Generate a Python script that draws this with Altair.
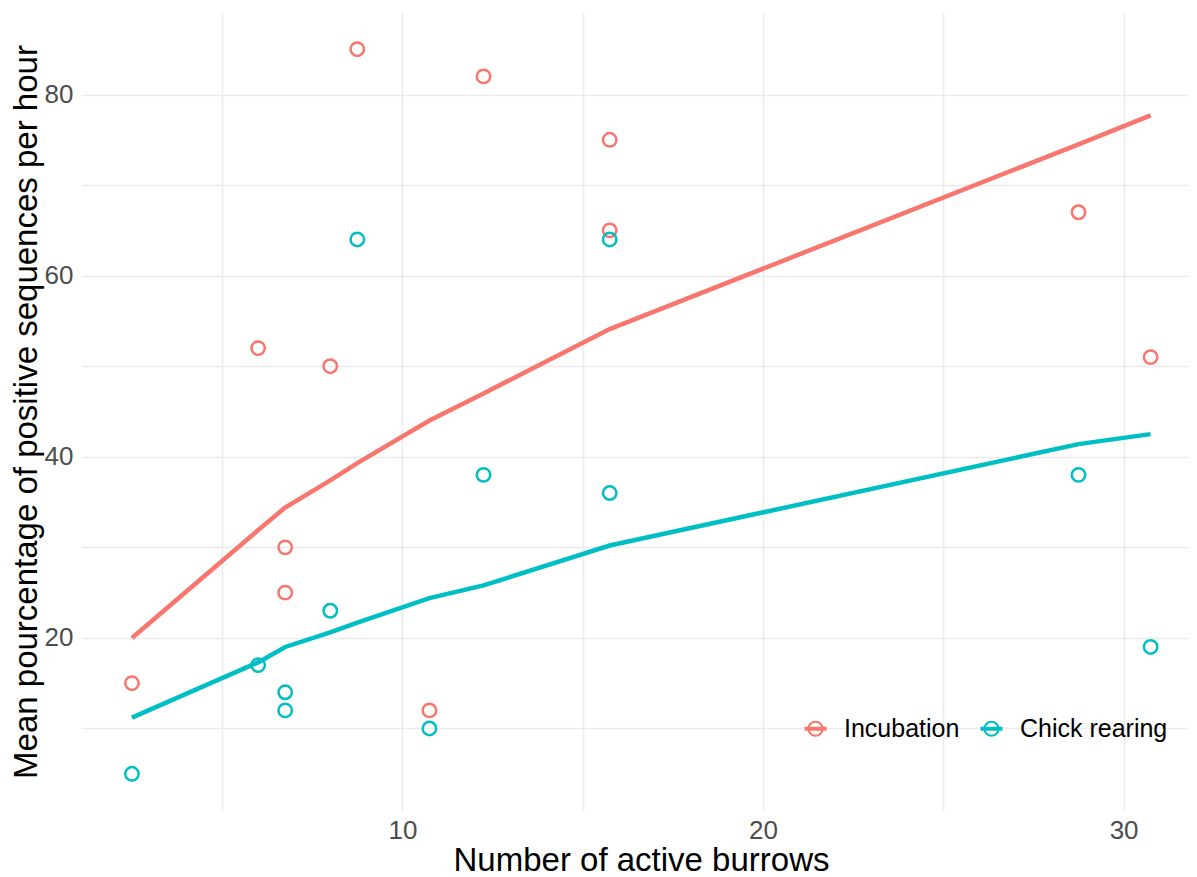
import altair as alt
import pandas as pd

# ---- data ----
burrows = [2.5, 6, 6.75, 6.75, 8, 8.75, 10.75, 12.25, 15.75, 15.75, 28.75, 30.75]
incubation = [15, 52, 30, 25, 50, 85, 12, 82, 75, 65, 67, 51]
chick_rearing = [5, 17, 14, 12, 23, 64, 10, 38, 36, 64, 38, 19]

fit_x = [2.5, 6, 6.75, 8, 8.75, 10.75, 12.25, 15.75, 28.75, 30.75]
fit_incubation = [20.0, 31.9, 34.4, 37.4, 39.3, 44.0, 47.0, 54.1, 74.5, 77.7]
fit_chick_rearing = [11.2, 17.3, 19.0, 20.6, 21.7, 24.4, 25.8, 30.2, 41.4, 42.5]

groups = ["Incubation", "Chick rearing"]
colors = ["#F8766D", "#00BFC4"]

x_ticks = [5, 10, 15, 20, 25, 30]
y_ticks = [10, 20, 30, 40, 50, 60, 70, 80]

points = pd.DataFrame({
    "x": burrows + burrows,
    "y": incubation + chick_rearing,
    "group": [groups[0]] * len(burrows) + [groups[1]] * len(burrows),
})
fits = pd.DataFrame({
    "x": fit_x + fit_x,
    "y": fit_incubation + fit_chick_rearing,
    "group": [groups[0]] * len(fit_x) + [groups[1]] * len(fit_x),
})

FONT = "Liberation Sans"
W, H = 1108, 797
PX_PER_UNIT = 36.06
XMIN = 1.0875
XMAX = XMIN + W / PX_PER_UNIT

x_enc = alt.X(
    "x:Q",
    scale=alt.Scale(domain=[XMIN, XMAX], nice=False, zero=False),
    axis=alt.Axis(
        title="Number of active burrows",
        values=x_ticks,
        labelExpr="datum.value % 10 === 0 ? datum.label : ''",
        grid=True, gridColor="#EBEBEB", gridWidth=1.6,
        domain=False, ticks=False, tickSize=0,
        labelFont=FONT, labelFontSize=26, labelColor="#4D4D4D",
        labelBaseline="alphabetic", labelPadding=28,
        titleFont=FONT, titleFontSize=33, titleFontWeight="normal", titleColor="#000000",
        titleBaseline="alphabetic", titleY=60, titleX=560,
    ),
)
y_enc = alt.Y(
    "y:Q",
    scale=alt.Scale(domain=[1, 89], nice=False, zero=False),
    axis=alt.Axis(
        title="Mean pourcentage of positive sequences per hour",
        values=y_ticks,
        labelExpr="datum.value % 20 === 0 ? datum.label : ''",
        grid=True, gridColor="#EBEBEB", gridWidth=1.6,
        domain=False, ticks=False, tickSize=0,
        labelFont=FONT, labelFontSize=26, labelColor="#4D4D4D",
        labelPadding=8,
        titleFont=FONT, titleFontSize=33, titleFontWeight="normal", titleColor="#000000",
        titleBaseline="alphabetic", titleX=-45,
    ),
)

legend_symbol = (
    "M-1,-0.1L1,-0.1M-1,0L1,0M-1,0.1L1,0.1"
    "M0.64,0A0.64,0.64,0,1,1,-0.64,0A0.64,0.64,0,1,1,0.64,0"
)

color_enc = alt.Color(
    "group:N",
    scale=alt.Scale(domain=groups, range=colors),
    sort=groups,
    legend=alt.Legend(
        title=None,
        orient="none",
        direction="horizontal",
        legendX=722,
        legendY=703,
        symbolType=legend_symbol,
        symbolSize=484,
        symbolStrokeWidth=2,
        symbolFillColor="transparent",
        labelFont=FONT,
        labelFontSize=25,
        labelColor="#000000",
        labelOffset=16,
        columnPadding=16,
        padding=0,
    ),
)

lines = alt.Chart(fits).mark_line(strokeWidth=4.5).encode(
    x=x_enc,
    y=y_enc,
    color=color_enc,
)

pts = alt.Chart(points).mark_point(filled=False, size=180, strokeWidth=2.5, opacity=1).encode(
    x=x_enc,
    y=y_enc,
    color=color_enc,
)

chart = (
    alt.layer(lines, pts)
    .properties(
        width=W,
        height=H,
        autosize=alt.AutoSizeParams(type="none"),
        padding={"left": 73, "top": 5, "right": 0, "bottom": 64},
        background="#FFFFFF",
    )
    .configure_view(stroke=None)
)

chart.save("out.html", embed_options={"renderer": "svg", "actions": False})
